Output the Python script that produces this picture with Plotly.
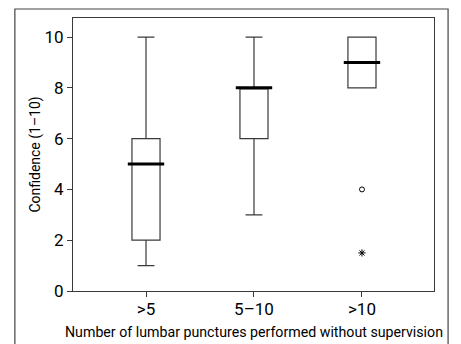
import plotly.graph_objects as go

categories = [">5", "5–10", ">10"]
q1_vals = [2, 6, 8]
median_vals = [5, 8, 9]
q3_vals = [6, 8, 10]
lower_whisker = [1, 3, 8]
upper_whisker = [10, 10, 10]
outlier_circle_x = [">10"]
outlier_circle_y = [4]
outlier_star_x = [">10"]
outlier_star_y = [1.5]

FONT = "Roboto, sans-serif"
LINE = "#3a3a3a"

fig = go.Figure()
fig.add_trace(go.Box(
    x=categories, q1=q1_vals, median=median_vals, q3=q3_vals,
    lowerfence=lower_whisker, upperfence=upper_whisker,
    fillcolor="white", line=dict(color=LINE, width=1.2),
    whiskerwidth=0.6, width=0.26, boxpoints=False, showlegend=False,
))
fig.add_trace(go.Scatter(
    x=categories, y=median_vals, mode="markers",
    marker=dict(symbol="line-ew", size=26, color="black",
                line=dict(color="black", width=3)),
    showlegend=False,
))
fig.add_trace(go.Scatter(
    x=outlier_circle_x, y=outlier_circle_y, mode="markers",
    marker=dict(symbol="circle-open", size=5, color="black",
                line=dict(color="black", width=1)),
    showlegend=False,
))
fig.add_trace(go.Scatter(
    x=outlier_star_x, y=outlier_star_y, mode="markers",
    marker=dict(symbol="asterisk-open", size=6, color="black",
                line=dict(color="black", width=1)),
    showlegend=False,
))

fig.update_layout(
    width=461, height=344,
    margin=dict(l=73, r=27, t=18, b=53),
    paper_bgcolor="white", plot_bgcolor="white",
    font=dict(family=FONT, size=17, color="black"),
    xaxis=dict(
        range=[-0.676, 2.667], showgrid=False, zeroline=False, automargin=False,
        showline=True, linecolor=LINE, linewidth=1, mirror=True,
        ticks="outside", ticklen=5, tickcolor=LINE, ticklabelstandoff=-2,
        tickfont=dict(size=17),
    ),
    yaxis=dict(
        range=[0, 10.75], showgrid=False, zeroline=False, automargin=False,
        showline=True, linecolor=LINE, linewidth=1, mirror=True,
        ticks="outside", ticklen=5, tickcolor=LINE,
        tickvals=[0, 2, 4, 6, 8, 10], tickfont=dict(size=17),
    ),
    annotations=[
        dict(text="Number of lumbar punctures performed without supervision",
             xref="paper", yref="paper", x=0.5, y=-0.150,
             xanchor="center", yanchor="middle", showarrow=False,
             font=dict(size=14.2)),
        dict(text="Confidence (1–10)", xref="paper", yref="paper",
             x=-0.105, y=0.5, xanchor="center", yanchor="middle",
             textangle=-90, showarrow=False, font=dict(size=14)),
    ],
    shapes=[dict(type="rect", xref="paper", yref="paper",
                 x0=-0.161, x1=1.039, y0=-0.25, y1=1.033,
                 line=dict(color="#444", width=1.2), layer="below")],
)
fig.write_html("out.html", config={"displayModeBar": False},
               post_script="document.body.style.margin='0';")
